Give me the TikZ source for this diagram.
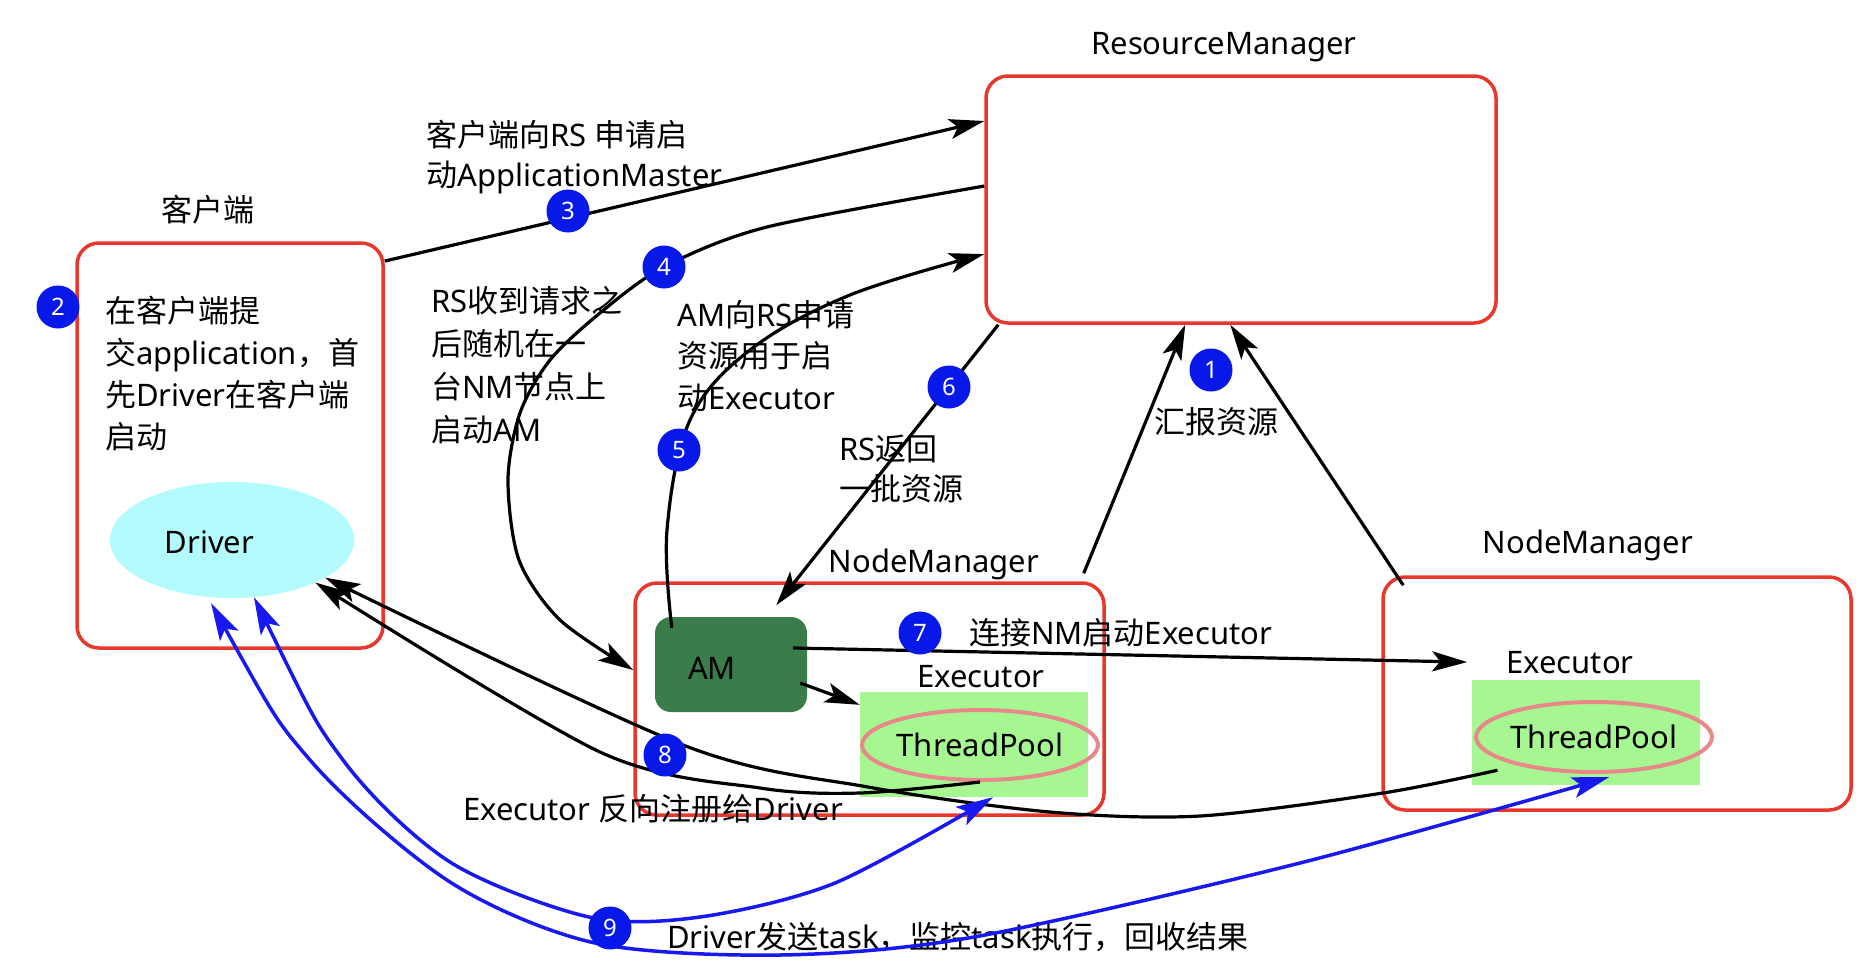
\documentclass[tikz,border=0pt]{standalone}
\usepackage{fontspec}
\usetikzlibrary{shapes.geometric,arrows.meta}
\setmainfont{Noto Sans}
\newfontfamily\cjkf{Noto Sans CJK SC}
\XeTeXinterchartokenstate=1
\newXeTeXintercharclass\cjkcls
\count255="4E00
\loop
  \XeTeXcharclass\count255=\cjkcls
  \ifnum\count255<"9FFF
  \advance\count255 by 1
\repeat
\XeTeXcharclass"FF0C=\cjkcls
\XeTeXinterchartoks 0 \cjkcls={\cjkf}
\XeTeXinterchartoks 4095 \cjkcls={\cjkf}
\XeTeXinterchartoks \cjkcls 0={\rmfamily}
\definecolor{boxred}{RGB}{232,56,45}
\definecolor{numblue}{RGB}{8,24,232}
\definecolor{arrblue}{RGB}{24,24,240}
\definecolor{drvcyan}{RGB}{178,250,252}
\definecolor{amgreen}{RGB}{58,124,74}
\definecolor{exgreen}{RGB}{166,247,146}
\definecolor{tppink}{RGB}{232,136,138}
\begin{document}
\begin{tikzpicture}[x=1pt,y=-1pt,
  box/.style={draw=boxred,line width=3.5pt,rounded corners=22pt,inner sep=0pt},
  lbl/.style={inner sep=0pt,font=\fontsize{31}{41.7}\selectfont},
  num/.style={circle,fill=numblue,minimum size=43pt,inner sep=0pt,text=white,font=\fontsize{24}{24}\selectfont\bfseries},
  blk/.style={draw=black,line width=3.2pt},
  bl/.style={draw=arrblue,line width=3.5pt},
  arr/.style={-{Stealth[length=35pt,width=20pt,inset=8pt]}},
  barr/.style={{Stealth[length=37pt,width=21pt,inset=8pt]}-{Stealth[length=37pt,width=21pt,inset=8pt]}},
  exrect/.style={fill=exgreen,minimum width=228pt,minimum height=105pt,inner sep=0pt},
  tpell/.style={ellipse,draw=tppink,line width=4pt,minimum height=70pt,inner sep=0pt}
]
\useasboundingbox (0,0) rectangle (1870,966);
\fill[white] (0,0) rectangle (1870,966);

% boxes
\node[box,minimum width=510pt,minimum height=247pt] (rm) at (1241,199.5) {};
\node[box,minimum width=306pt,minimum height=405pt] (client) at (230,445.5) {};
\node[box,minimum width=469pt,minimum height=232pt] (nm1) at (869.5,699) {};
\node[box,minimum width=468pt,minimum height=233pt] (nm2) at (1617,693.5) {};

\node[ellipse,fill=drvcyan,minimum width=244pt,minimum height=116pt,inner sep=0pt] (driver) at (232,540) {};
\node[fill=amgreen,rounded corners=16pt,minimum width=152pt,minimum height=95pt,inner sep=0pt] (am) at (731,664.5) {};
\node[exrect] (ex1) at (974,744.5) {};
\node[exrect] (ex2) at (1586,732.5) {};
\node[tpell,minimum width=204pt,lbl] (tp1) at (980,745) {ThreadPool};
\node[tpell,minimum width=202pt,lbl] (tp2) at (1594,737) {ThreadPool};

% labels
\node[lbl,anchor=base] (rmlbl) at (1224,55) {ResourceManager};
\node[lbl,anchor=base] (clbl) at (208,221) {客户端};
\node[lbl,anchor=base] (nm1lbl) at (934,572) {NodeManager};
\node[lbl,anchor=base] (nm2lbl) at (1588,553) {NodeManager};
\node[lbl,anchor=base] (drvlbl) at (209.5,553) {Driver};
\node[lbl,anchor=base] (amlbl) at (712,679) {AM};
\node[lbl,anchor=base] (ex1lbl) at (981,687) {Executor};
\node[lbl,anchor=base] (ex2lbl) at (1570,673) {Executor};

\node[lbl,align=left,anchor=base west] (t2) at (105,448) {在客户端提\\交application，首\\先Driver在客户端\\启动};
\node[lbl,align=left,anchor=base west,font=\fontsize{31}{40}\selectfont] (t3) at (426,186) {客户端向RS 申请启\\动ApplicationMaster};
\node[lbl,align=left,anchor=base west,font=\fontsize{31}{42.7}\selectfont] (t4) at (431,441) {RS收到请求之\\后随机在一\\台NM节点上\\启动AM};
\node[lbl,align=left,anchor=base west,font=\fontsize{31}{41.5}\selectfont] (t5) at (677,409) {AM向RS申请\\资源用于启\\动Executor};
\node[lbl,align=left,anchor=base west,font=\fontsize{31}{40}\selectfont] (t6) at (839,500) {RS返回\\一批资源};
\node[lbl,anchor=base] (t1) at (1216,433) {汇报资源};
\node[lbl,anchor=base west] (t7) at (969,644) {连接NM启动Executor};
\node[lbl,anchor=base west] (t8) at (463,820) {Executor 反向注册给Driver};
\node[lbl,anchor=base west] (t9) at (667,948) {Driver发送task，监控task执行，回收结果};

% connectors
\draw[blk,arr] (client.50) -- (rm.163);
\draw[blk,arr] plot[smooth] coordinates {(rm.177) (767,227) (664,267) (600,313) (550,360) (520,413) (508,480) (519,560) (560,620) (nm1.173)};
\draw[blk,arr] plot[smooth,tension=0.6] coordinates {([xshift=17pt,yshift=-11pt]am.north west) (667,530) (690,420) (750,350) (850,295) (rm.192)};
\draw[blk,arr] ([xshift=14pt]rm.south west) -- ([xshift=143pt,yshift=-24pt]nm1.north west);
\draw[blk,arr] ([xshift=-22pt,yshift=8pt]nm1.north east) -- ([xshift=201pt]rm.south west);
\draw[blk,arr] ([xshift=22pt,yshift=-10pt]nm2.north west) -- ([xshift=246pt]rm.south west);
\draw[blk,arr] ([xshift=-14pt,yshift=16.5pt]am.east) -- ([xshift=-39pt]ex2lbl.west);
\draw[blk,arr] ([xshift=-7pt,yshift=-18.5pt]am.east) -- ([yshift=-13pt]ex1.north west);
\draw[blk,arr] plot[smooth] coordinates {(tp1.270) (860,793) (760,788) (600,752) (driver.-27)};
\draw[blk,arr] plot[smooth] coordinates {([xshift=-19pt,yshift=-5pt]tp2.200) (1383,793) (1200,816) (1050,812) (868,787) (683,745) (driver.-22)};
\draw[bl,barr] plot[smooth] coordinates {(driver.-69) (343,760) (450,862) (589,917) (700,917) (835,883) ([xshift=19pt]ex1.south)};
\draw[bl,barr] plot[smooth] coordinates {([yshift=-6pt]driver.-110) (310,760) (450,882) (595,943) (780,955) (974,937) (1300,863) ([xshift=23pt,yshift=8pt]ex2.south)};

% numbers
\node[num] (c1) at (1211,370) {1};
\node[num] (c2) at (58,307) {2};
\node[num] (c3) at (568,211) {3};
\node[num] (c4) at (664,267) {4};
\node[num] (c5) at (679,450) {5};
\node[num] (c6) at (949,387) {6};
\node[num] (c7) at (920,633) {7};
\node[num] (c8) at (665,755) {8};
\node[num] (c9) at (610,928) {9};
\end{tikzpicture}
\end{document}
